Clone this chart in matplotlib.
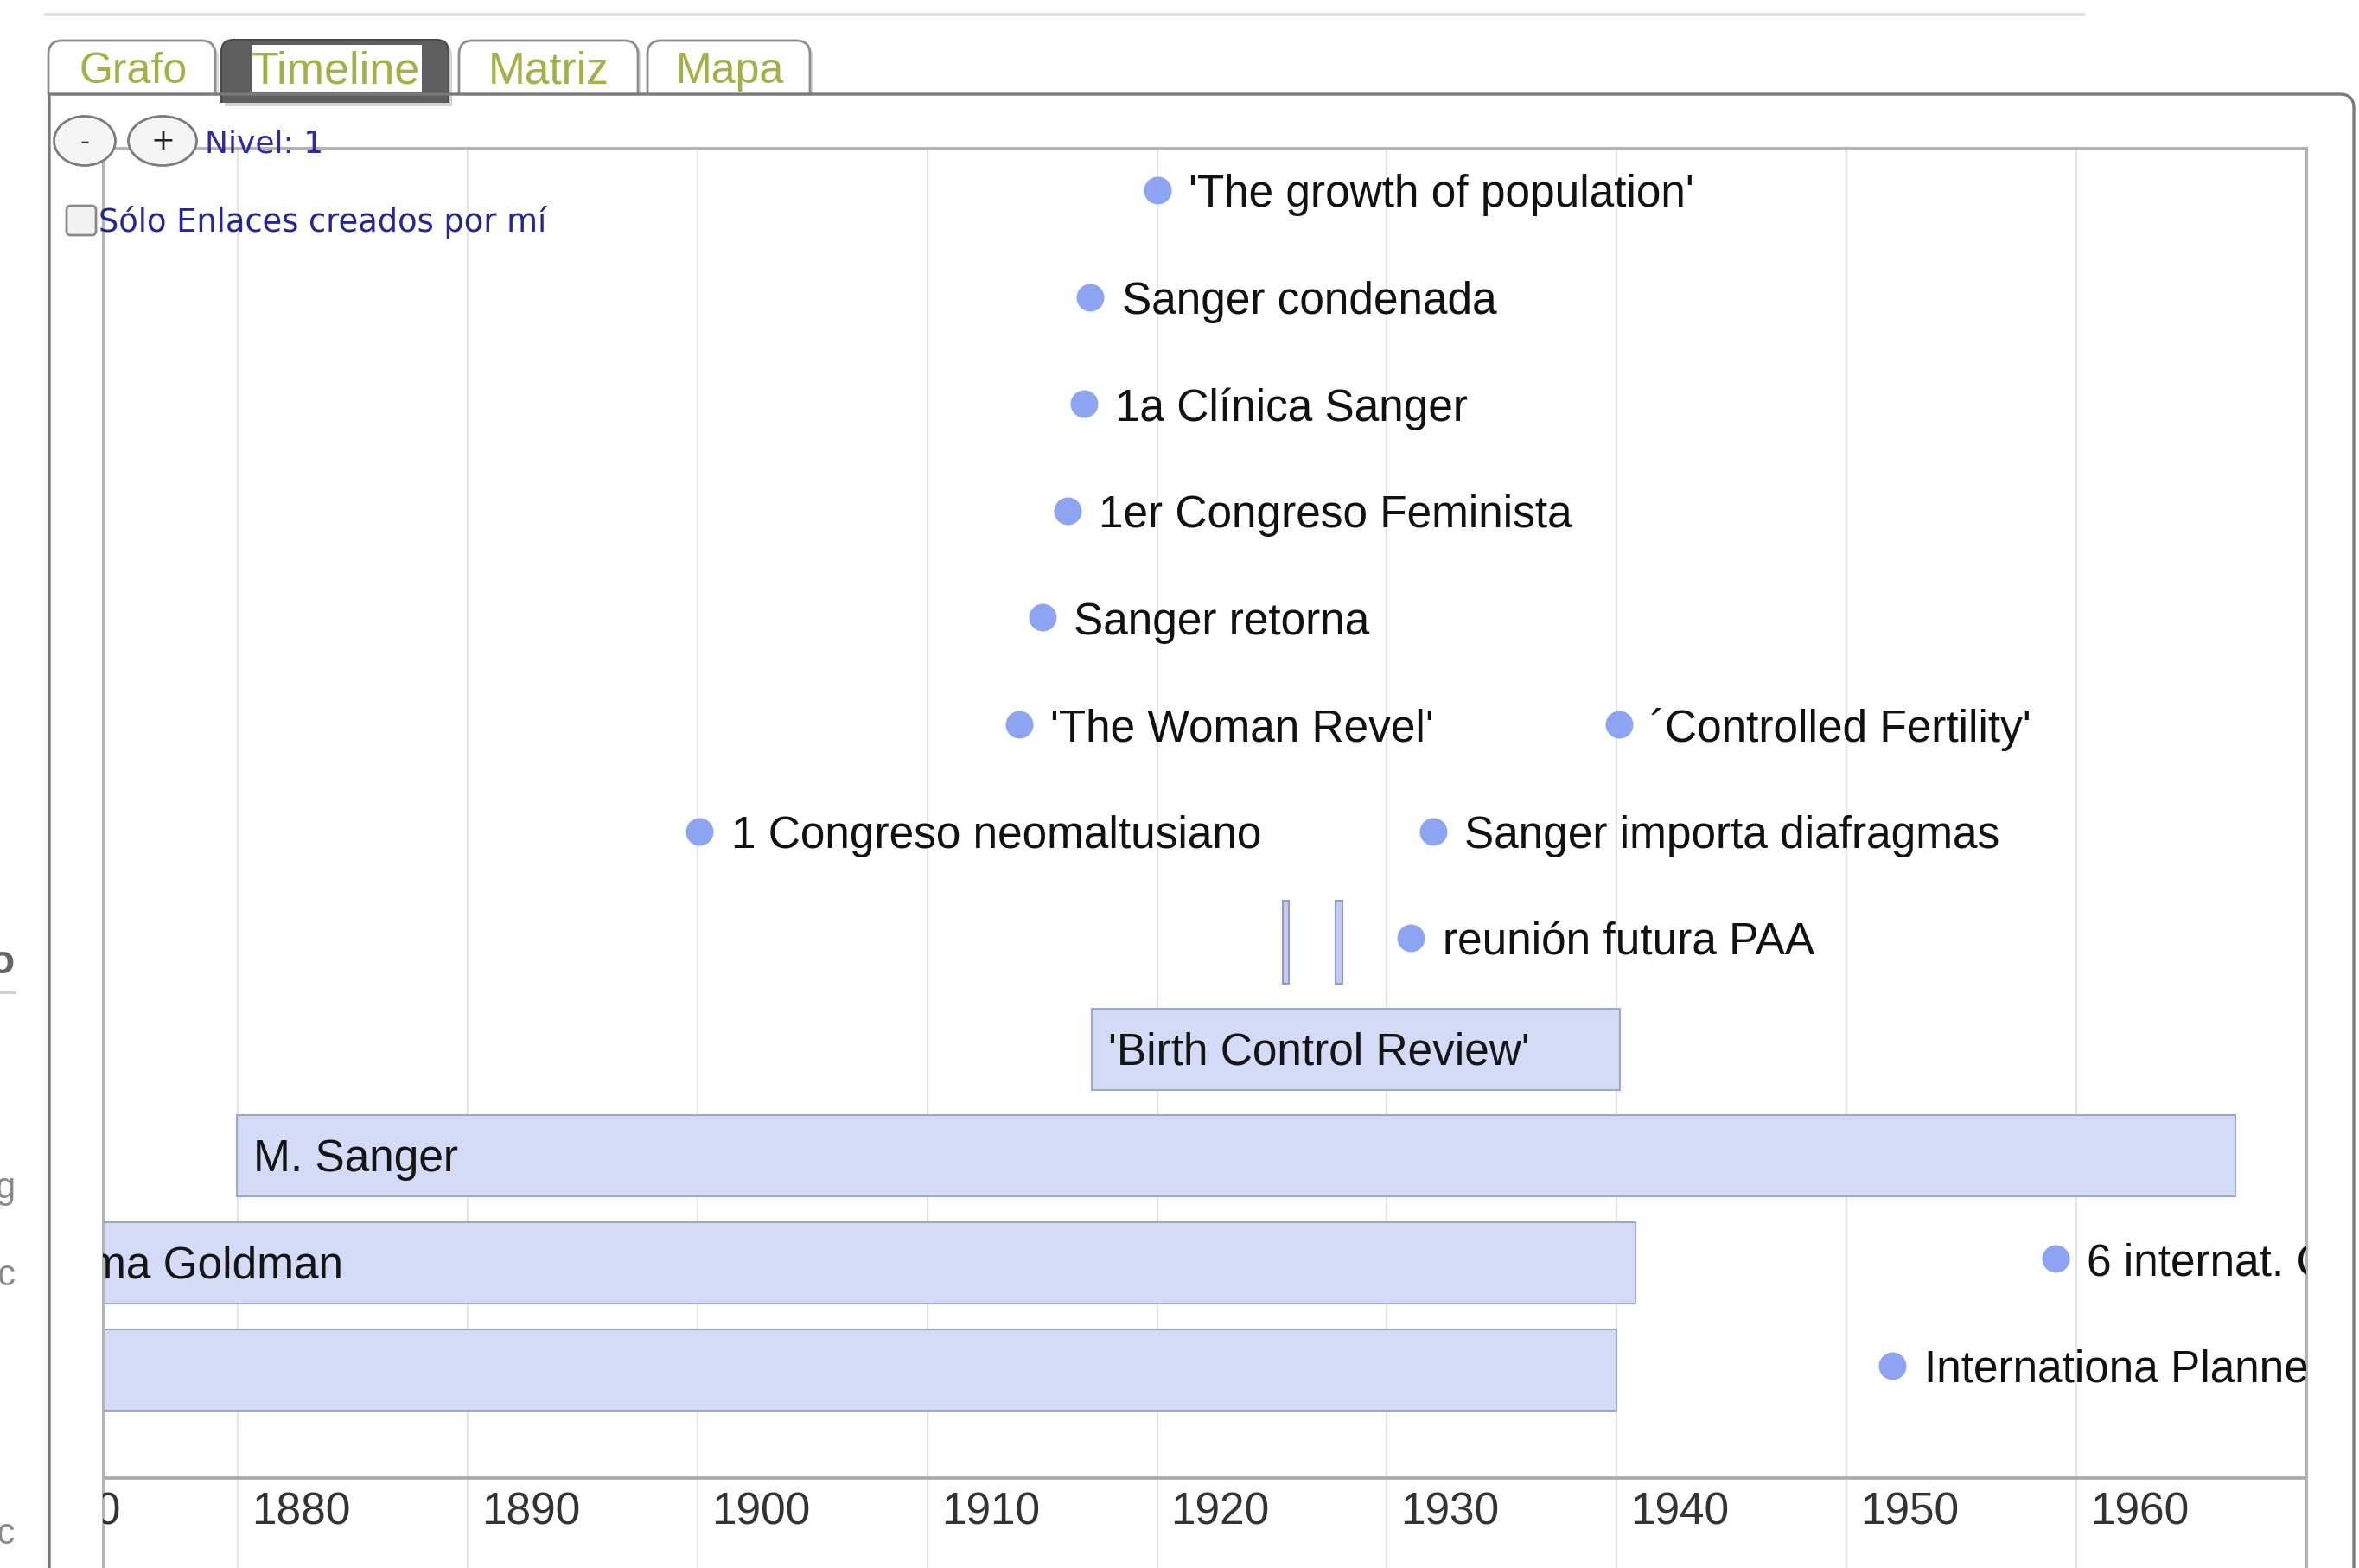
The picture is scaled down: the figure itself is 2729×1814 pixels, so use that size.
import matplotlib
matplotlib.use('Agg')
import matplotlib.pyplot as plt
from matplotlib.path import Path
from matplotlib.patches import PathPatch, Ellipse, FancyBboxPatch, Rectangle

plt.rcParams['font.family'] = ['Liberation Sans', 'DejaVu Sans']

# ---------------- data ----------------
tick_years = [1870, 1880, 1890, 1900, 1910, 1920, 1930, 1940, 1950, 1960, 1970]
tick_labels = ['1870', '1880', '1890', '1900', '1910', '1920', '1930', '1940', '1950', '1960', '']

event_labels = ["'The growth of population'", "Sanger condenada", "1a Clínica Sanger",
                "1er Congreso Feminista", "Sanger retorna", "'The Woman Revel'",
                "´Controlled Fertility'", "1 Congreso neomaltusiano", "Sanger importa diafragmas",
                "reunión futura PAA", "6 internat. Conference", "Internationa Planned Parenthood"]
event_years = [1920.0, 1917.1, 1916.8, 1916.1, 1915.0, 1914.0,
               1940.1, 1900.1, 1932.0, 1931.05, 1959.1, 1952.0]
event_rows = [0, 1, 2, 3, 4, 5, 5, 6, 6, 7, 10, 11]

dur_labels = ["'Birth Control Review'", "M. Sanger", "Emma Goldman", ""]
dur_start = [1917.15, 1879.95, 1869.9, 1859.0]
dur_end = [1940.15, 1966.9, 1940.8, 1940.0]
dur_rows = [8, 9, 10, 11]

tape_years = [1925.6, 1927.9]
tape_rows = [7, 7]

tab_names = ['Grafo', 'Timeline', 'Matriz', 'Mapa']

# ---------------- figure ----------------
W, H = 2729, 1815
fig = plt.figure(figsize=(W / 100, H / 100), dpi=100)
fig.patch.set_facecolor('white')

ax = fig.add_axes([119 / W, 0, (2668 - 119) / W, (H - 172) / H], zorder=1)
ax.set_xlim(1874.13, 1970.0)
ax.set_ylim(12.896, -0.396)
ax.set_xticks([])
ax.set_yticks([])
for s in ['top', 'left', 'right']:
    ax.spines[s].set_color('#b4b4b4')
    ax.spines[s].set_linewidth(2.2)
ax.spines['bottom'].set_visible(False)

for yv in tick_years:
    ax.axvline(yv, color='#e4e4e4', lw=1.6, zorder=0)
ax.axhline(12.055, color='#a9a9a9', lw=2.6, zorder=1)

for yv, lab in zip(tick_years, tick_labels):
    ax.annotate(lab, xy=(yv, 12.34), xytext=(11.5, -2.5), textcoords='offset points',
                ha='left', va='center', fontsize=37, color='#333333',
                clip_on=True, annotation_clip=False)

# duration bars
bar_dy = 0.04
ax.barh([r + bar_dy for r in dur_rows], [e - s for s, e in zip(dur_start, dur_end)],
        left=dur_start, height=0.76, color='#d3dbf6', edgecolor='#9ea8c8',
        linewidth=1.5, zorder=2)
for s, r, lab in zip(dur_start, dur_rows, dur_labels):
    ax.annotate(lab, xy=(s, r + bar_dy), xytext=(13.7, -2.5), textcoords='offset points',
                ha='left', va='center', fontsize=37, color='#151515',
                clip_on=True, annotation_clip=False, zorder=3)

# short tapes
ax.barh([r + bar_dy for r in tape_rows], [0.3] * len(tape_years),
        left=[t - 0.15 for t in tape_years], height=0.78,
        color='#c3ccf3', edgecolor='#929cc8', linewidth=1.5, zorder=2)

# point events
ax.plot(event_years, event_rows, 'o', ms=23, color='#8ca4f1', mec='none', zorder=3)
for yv, r, lab in zip(event_years, event_rows, event_labels):
    ax.annotate(lab, xy=(yv, r), xytext=(26, -3.5), textcoords='offset points',
                ha='left', va='center', fontsize=37, color='#111111',
                clip_on=True, annotation_clip=False, zorder=4)

# ---------------- page decoration ----------------
deco = fig.add_axes([0, 0, 1, 1], zorder=3)
deco.set_xlim(0, W)
deco.set_ylim(H, 0)
deco.patch.set_alpha(0)
deco.axis('off')

deco.plot([52, 2410], [17, 17], color='#dedede', lw=2)


def tab_path(x0, x1, ytop, ybot, r):
    verts = [(x0, ybot), (x0, ytop + r), (x0, ytop), (x0 + r, ytop),
             (x1 - r, ytop), (x1, ytop), (x1, ytop + r), (x1, ybot)]
    codes = [Path.MOVETO, Path.LINETO, Path.CURVE3, Path.CURVE3,
             Path.LINETO, Path.CURVE3, Path.CURVE3, Path.LINETO]
    return Path(verts, codes)


tab_x = [(56, 249), (256, 519), (531, 738), (749, 937)]
tab_text_x = [91, 291, 565, 782]
tab_sizes = [36, 37.5, 37, 36]
for name, (x0, x1), tx, fs in zip(tab_names, tab_x, tab_text_x, tab_sizes):
    if name == 'Timeline':
        deco.add_patch(PathPatch(tab_path(x0 + 4, x1 + 4, 51, 124, 14), fc='#d2d2d2',
                                 ec='none'))
        deco.add_patch(PathPatch(tab_path(x0, x1, 47, 120, 14), fc='#5e5e5e', ec='#4a4a4a',
                                 lw=1.5))
        deco.add_patch(Rectangle((291, 53), 197, 54, fc='white', ec='none'))
    else:
        deco.add_patch(PathPatch(tab_path(x0 + 4, x1 + 4, 52, 112, 16), fc='#dcdcdc',
                                 ec='none'))
        deco.add_patch(PathPatch(tab_path(x0, x1, 48, 110, 16), fc='white', ec='#8e8e8e',
                                 lw=2))
    deco.text(tx, 83, name, ha='left', va='center', fontsize=fs, color='#a3b144')

# panel outline
panel = Path([(57, H), (57, 110), (2707, 110), (2723, 110), (2723, 126), (2723, H)],
             [Path.MOVETO, Path.LINETO, Path.LINETO, Path.CURVE3, Path.CURVE3, Path.LINETO])
deco.add_patch(PathPatch(panel, fc='none', ec='#7a7a7a', lw=2.4))

# zoom buttons
deco.add_patch(Ellipse((98, 164), 71, 57, fc='#f5f5f5', ec='#7c7c7c', lw=2))
deco.add_patch(Ellipse((188, 164), 79, 57, fc='#f5f5f5', ec='#7c7c7c', lw=2))
deco.text(98, 164, '-', ha='center', va='center', fontsize=22, color='#333333',
          family='DejaVu Sans')
deco.text(188, 163, '+', ha='center', va='center', fontsize=24, color='#222222',
          family='DejaVu Sans')
deco.text(237, 166, 'Nivel: 1', ha='left', va='center', fontsize=26, color='#2c2ca8',
          family='DejaVu Sans')

# checkbox
deco.add_patch(FancyBboxPatch((77, 239), 34, 34, boxstyle='round,pad=0,rounding_size=5',
                              fc='#f2f2f2', ec='#8a8a8a', lw=2))
deco.text(114, 257, 'Sólo Enlaces creados por mí', ha='left', va='center', fontsize=26.5,
          color='#24249c', family='DejaVu Sans')

# clipped fragments of neighbouring page content at the far left
deco.text(18, 1114, 'ro', ha='right', va='center', fontsize=34, color='#666666',
          fontweight='bold')
deco.plot([0, 17], [1149, 1149], color='#d0d0d0', lw=2)
deco.text(18, 1375, 'rg', ha='right', va='center', fontsize=30, color='#8a8a8a')
deco.text(18, 1476, 'ic', ha='right', va='center', fontsize=30, color='#8a8a8a')
deco.text(18, 1775, '.c', ha='right', va='center', fontsize=30, color='#8a8a8a')

fig.savefig('out.png', dpi=100, facecolor='white')
